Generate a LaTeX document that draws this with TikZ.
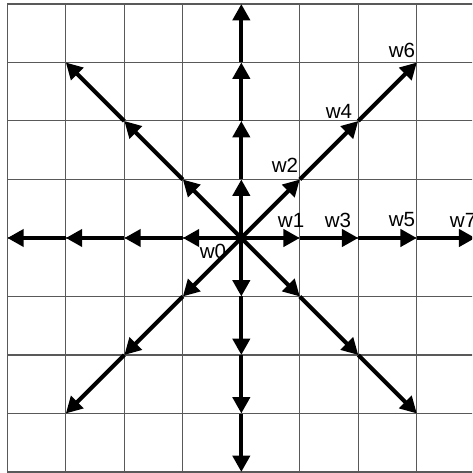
\documentclass[tikz,border=0pt]{standalone}
\usepackage{fontspec}
\setmainfont{Liberation Sans}
\usetikzlibrary{arrows.meta}
\begin{document}
\begin{tikzpicture}[x=1cm,y=1cm,
  gridline/.style={draw=black!65,line width=0.5pt},
  vec/.style={line width=2pt,-{Triangle[length=0.28cm,width=0.29cm]}},
  lbl/.style={font=\fontsize{10}{11}\selectfont,inner sep=0pt}]
\useasboundingbox (-4.125,-4.017) rectangle (3.944,4.068);
\clip (-4.125,-4.017) rectangle (3.944,4.068);
\fill[white] (-4.125,-4.017) rectangle (3.944,4.068);
\draw[gridline] (-4,-4) grid (4,4);
\coordinate (O) at (0,0);
\foreach \d/\dx/\dy/\n in {N/0/1/4, S/0/-1/4, E/1/0/4, W/-1/0/4, NE/1/1/3, NW/-1/1/3, SE/1/-1/3, SW/-1/-1/3} {
  \foreach \k in {1,...,\n} \coordinate (\d\k) at ({\k*(\dx)},{\k*(\dy)});
  \draw[vec] (O) -- (\d1);
  \foreach \k [remember=\k as \j (initially 1)] in {2,...,\n} \draw[vec] (\d\j) -- (\d\k);
}
\node[lbl] (l0) at (-0.484,-0.222) {w0};
\node[lbl] (l1) at (0.85,0.308) {w1};
\node[lbl] (l3) at (1.653,0.308) {w3};
\node[lbl] (l5) at (2.747,0.308) {w5};
\node[lbl] (l7) at (3.79,0.308) {w7};
\node[lbl] (l2) at (0.747,1.248) {w2};
\node[lbl] (l4) at (1.67,2.171) {w4};
\node[lbl] (l6) at (2.747,3.214) {w6};
\end{tikzpicture}
\end{document}
